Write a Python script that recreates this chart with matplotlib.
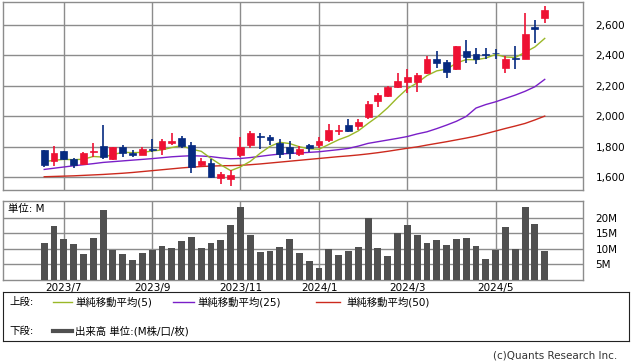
import matplotlib
matplotlib.use("Agg")
import matplotlib.pyplot as plt
from matplotlib.patches import Rectangle

plt.rcParams['font.family'] = ['DejaVu Sans', 'Noto Sans CJK JP']

# ---------------- data (weekly) ----------------
opens = [1779, 1709, 1773, 1718, 1685, 1766, 1805, 1720, 1799, 1757,
         1749, 1786, 1786, 1823, 1856, 1810, 1679, 1692, 1593, 1587,
         1746, 1812, 1871, 1867, 1823, 1797, 1753, 1810, 1810, 1845,
         1902, 1941, 1937, 1993, 2103, 2133, 2190, 2227, 2227, 2286,
         2380, 2354, 2308, 2431, 2409, 2409, 2418, 2315, 2383, 2378,
         2584, 2649]
highs = [1779, 1805, 1775, 1727, 1764, 1823, 1943, 1801, 1812, 1779,
         1797, 1851, 1849, 1889, 1871, 1834, 1725, 1718, 1633, 1648,
         1867, 1904, 1889, 1878, 1849, 1840, 1805, 1816, 1867, 1950,
         1941, 1985, 1985, 2101, 2155, 2199, 2286, 2310, 2286, 2396,
         2428, 2369, 2461, 2501, 2446, 2446, 2440, 2396, 2461, 2680,
         2636, 2724]
lows = [1670, 1676, 1714, 1663, 1683, 1735, 1718, 1714, 1731, 1731,
        1745, 1768, 1746, 1810, 1790, 1626, 1670, 1598, 1554, 1545,
        1736, 1790, 1788, 1812, 1725, 1722, 1742, 1768, 1790, 1834,
        1878, 1897, 1910, 1980, 2059, 2130, 2184, 2151, 2162, 2278,
        2319, 2254, 2306, 2348, 2341, 2380, 2380, 2286, 2310, 2376,
        2479, 2614]
closes = [1683, 1757, 1718, 1679, 1757, 1775, 1735, 1799, 1757, 1744,
          1786, 1779, 1836, 1836, 1805, 1670, 1707, 1604, 1622, 1615,
          1797, 1889, 1867, 1847, 1751, 1757, 1784, 1795, 1836, 1910,
          1910, 1906, 1963, 2081, 2140, 2195, 2234, 2260, 2271, 2380,
          2348, 2289, 2461, 2387, 2374, 2402, 2413, 2374, 2374, 2544,
          2573, 2697]
volumes = [11.8, 17.2, 13.1, 11.5, 8.3, 13.4, 22.3, 9.7, 8.3, 6.4,
           8.6, 9.7, 10.9, 10.2, 12.4, 13.7, 10.2, 11.8, 12.8, 17.6,
           23.3, 14.4, 8.9, 9.3, 10.5, 13.1, 8.6, 6.1, 3.8, 9.9,
           8.0, 9.3, 10.5, 19.9, 10.2, 7.7, 14.9, 17.6, 14.4, 11.8,
           12.8, 11.2, 13.1, 13.4, 10.9, 6.7, 9.6, 16.9, 9.9, 23.3,
           17.9, 9.3]
sma5 = [1703, 1712, 1718, 1716, 1719, 1737, 1733, 1749, 1765, 1762,
        1764, 1773, 1780, 1796, 1808, 1785, 1771, 1724, 1682, 1644,
        1669, 1705, 1758, 1803, 1830, 1822, 1801, 1787, 1785, 1816,
        1847, 1871, 1905, 1954, 2000, 2057, 2123, 2182, 2220, 2268,
        2299, 2310, 2350, 2373, 2372, 2383, 2407, 2390, 2387, 2421,
        2456, 2512]
sma25 = [1652, 1660, 1668, 1676, 1683, 1690, 1698, 1703, 1708, 1713,
         1718, 1723, 1729, 1735, 1739, 1742, 1740, 1736, 1728, 1722,
         1724, 1730, 1738, 1746, 1753, 1757, 1760, 1764, 1768, 1775,
         1782, 1790, 1805, 1823, 1834, 1845, 1856, 1868, 1885, 1899,
         1920, 1943, 1968, 2000, 2055, 2078, 2096, 2118, 2140, 2165,
         2195, 2243]
sma50 = [1604, 1606, 1608, 1610, 1613, 1616, 1619, 1623, 1627, 1632,
         1638, 1644, 1650, 1656, 1662, 1667, 1671, 1674, 1676, 1677,
         1679, 1683, 1688, 1694, 1700, 1706, 1712, 1718, 1724, 1730,
         1736, 1741, 1747, 1754, 1762, 1771, 1781, 1791, 1800, 1812,
         1823, 1834, 1846, 1858, 1871, 1887, 1904, 1921, 1937, 1954,
         1977, 2002]
month_tick_idx = [2, 11, 20, 28, 37, 46]
month_labels = ['2023/7', '2023/9', '2023/11', '2024/1', '2024/3', '2024/5']
price_ticks = [1600, 1800, 2000, 2200, 2400, 2600]
price_labels = ['1,600', '1,800', '2,000', '2,200', '2,400', '2,600']
vol_ticks = [5, 10, 15, 20]
vol_labels = ['5M', '10M', '15M', '20M']

# ---------------- styles ----------------
UP = '#ee1133'
DOWN = '#062a80'
GRID = '#8c8c8c'
C5 = '#9ab828'
C25 = '#7a1fc8'
C50 = '#cc2a1e'
VOLC = '#505050'
FS = 7.5

W, H = 638, 362
fig = plt.figure(figsize=(W / 100, H / 100), dpi=100)

def px_axes(l, t, r, b):
    return fig.add_axes([l / W, 1 - b / H, (r - l) / W, (b - t) / H])

x = list(range(len(closes)))
xlim = (-4.2, 54.9)

# ---------------- price panel ----------------
ax = px_axes(3, 2, 583, 190)
ax.set_xlim(*xlim)
ax.set_ylim(1517, 2751)
for s in ax.spines.values():
    s.set_color(GRID)
    s.set_linewidth(1)
ax.set_xticks(month_tick_idx)
ax.set_xticklabels([])
ax.set_yticks(price_ticks)
ax.set_yticklabels(price_labels)
ax.yaxis.tick_right()
ax.tick_params(axis='both', length=0, labelsize=FS)
ax.tick_params(axis='y', pad=9)
ax.grid(True, color=GRID, linewidth=1)
ax.set_axisbelow(True)

ax.plot(x, sma50, color=C50, lw=1, zorder=2)
ax.plot(x, sma25, color=C25, lw=1, zorder=2)
ax.plot(x, sma5, color=C5, lw=1, zorder=2)

for i in x:
    o, h, l, c = opens[i], highs[i], lows[i], closes[i]
    col = UP if c >= o else DOWN
    ax.vlines(i, l, h, color=col, lw=1.2, zorder=3)
    bot = min(o, c)
    ht = max(abs(c - o), 4)
    ax.bar(i, ht, bottom=bot, width=0.7, color=col, edgecolor=col,
           linewidth=0.5, zorder=4)

# ---------------- volume panel ----------------
av = px_axes(3, 201, 583, 280)
av.set_xlim(*xlim)
av.set_ylim(0, 25.3)
for s in av.spines.values():
    s.set_color(GRID)
    s.set_linewidth(1)
av.set_xticks(month_tick_idx)
av.set_xticklabels(month_labels)
av.set_yticks(vol_ticks)
av.set_yticklabels(vol_labels)
av.yaxis.tick_right()
av.tick_params(axis='both', length=0, labelsize=FS)
av.tick_params(axis='y', pad=9)
av.tick_params(axis='x', pad=2)
av.grid(True, color=GRID, linewidth=1)
av.set_axisbelow(True)
av.bar(x, volumes, width=0.7, color=VOLC, zorder=3)
av.text(0.008, 0.90, '単位: M', transform=av.transAxes, fontsize=FS,
        ha='left', va='center')

# ---------------- legend box ----------------
lg = px_axes(3, 292, 629, 341)
lg.set_xlim(3, 629)
lg.set_ylim(341, 292)
lg.set_xticks([])
lg.set_yticks([])
for s in lg.spines.values():
    s.set_color('#222222')
    s.set_linewidth(0.8)

row1, row2 = 302, 331
lg.text(9, row1, '上段:', fontsize=FS, va='center', ha='left')
lg.plot([53, 72], [row1, row1], color=C5, lw=1)
lg.text(75, row1, '単純移動平均(5)', fontsize=FS, va='center', ha='left')
lg.plot([173, 194], [row1, row1], color=C25, lw=1)
lg.text(197, row1, '単純移動平均(25)', fontsize=FS, va='center', ha='left')
lg.plot([316, 340], [row1, row1], color=C50, lw=1)
lg.text(346, row1, '単純移動平均(50)', fontsize=FS, va='center', ha='left')
lg.text(9, row2, '下段:', fontsize=FS, va='center', ha='left')
lg.plot([53, 72], [row2, row2], color=VOLC, lw=3)
lg.text(75, row2, '出来高 単位:(M株/口/枚)', fontsize=FS, va='center', ha='left')

fig.text(617 / W, 1 - 356 / H, '(c)Quants Research Inc.', fontsize=FS,
         ha='right', va='center', color='#333333')

fig.savefig('out.png', dpi=100)
